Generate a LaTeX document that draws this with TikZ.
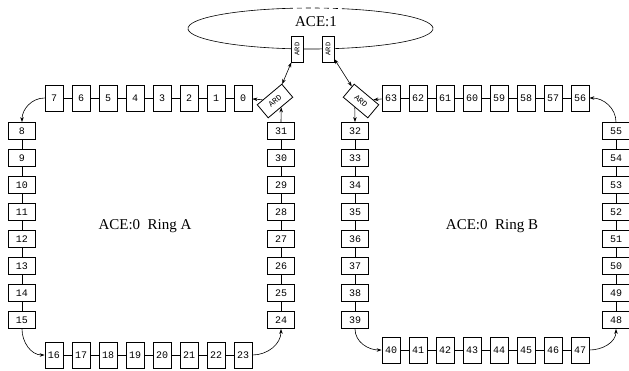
\documentclass[tikz,border=0pt]{standalone}
\usepackage{fontspec}
\setmainfont{Liberation Serif}
\newfontfamily\boxfont{Liberation Mono}
\usetikzlibrary{arrows.meta}
\usetikzlibrary{calc}
\tikzset{hbox/.style = {draw, line width=0.8pt, fill=white, inner sep=0,
                        minimum width=18, minimum height=26,
                        font=\boxfont\fontsize{10}{10}\selectfont}}
\tikzset{vbox/.style = {draw, line width=0.8pt, fill=white, inner sep=0,
                        minimum width=27, minimum height=17,
                        font=\boxfont\fontsize{10}{10}\selectfont}}
\tikzset{ard/.style = {draw, line width=0.8pt, fill=white, inner sep=0,
                       font=\boxfont\fontsize{7}{7}\selectfont}}
\tikzset{flow/.style = {-{Stealth[length=5pt, width=3.5pt]}}}
\tikzset{link/.style = {{Stealth[length=5pt, width=3.5pt]}-{Stealth[length=5pt, width=3.5pt]}}}
\tikzset{every picture/.style={
    every path/.style={line width=0.6pt},
}}

\begin{document}
\begin{tikzpicture}[x=1pt, y=-1pt]

      \useasboundingbox (0,0) rectangle (629,370);

      % ACE:1
      \def\cx{310.5}
      \def\cy{28.5}
      \draw (\cx,\cy) ++(285.4:122.5 and 20.5)
        arc[start angle=285.4, end angle=619.4, x radius=122.5, y radius=20.5];
      \draw[dash pattern=on 5pt off 4pt] (\cx,\cy) ++(259.4:122.5 and 20.5)
        arc[start angle=259.4, end angle=285.4, x radius=122.5, y radius=20.5];
      \node (ace1) at (316,22) {\fontsize{15}{18}\selectfont ACE:1};

      \node[ard, rotate=90, minimum width=26, minimum height=12] (ardT1) at (297,49) {ARD};
      \node[ard, rotate=90, minimum width=26, minimum height=12] (ardT2) at (328,49) {ARD};
      \node[ard, rotate=40, minimum width=32, minimum height=17,
            font=\boxfont\fontsize{8}{8}\selectfont] (ardA) at (275,101) {ARD};
      \node[ard, rotate=-40, minimum width=32, minimum height=17,
            font=\boxfont\fontsize{8}{8}\selectfont] (ardB) at (361,101) {ARD};

      % Ring A
      \node[hbox] (n0) at (243,98) {0};
      \node[hbox] (n1) at (216,98) {1};
      \node[hbox] (n2) at (189,98) {2};
      \node[hbox] (n3) at (162,98) {3};
      \node[hbox] (n4) at (135,98) {4};
      \node[hbox] (n5) at (108,98) {5};
      \node[hbox] (n6) at (81,98)  {6};
      \node[hbox] (n7) at (54,98)  {7};

      \node[vbox] (n8)  at (22,131) {8};
      \node[vbox] (n9)  at (22,158) {9};
      \node[vbox] (n10) at (22,185) {10};
      \node[vbox] (n11) at (22,212) {11};
      \node[vbox] (n12) at (22,239) {12};
      \node[vbox] (n13) at (22,266) {13};
      \node[vbox] (n14) at (22,293) {14};
      \node[vbox] (n15) at (22,320) {15};

      \node[hbox] (n16) at (54,355)  {16};
      \node[hbox] (n17) at (81,355)  {17};
      \node[hbox] (n18) at (108,355) {18};
      \node[hbox] (n19) at (135,355) {19};
      \node[hbox] (n20) at (162,355) {20};
      \node[hbox] (n21) at (189,355) {21};
      \node[hbox] (n22) at (216,355) {22};
      \node[hbox] (n23) at (243,355) {23};

      \node[vbox] (n24) at (281,320) {24};
      \node[vbox] (n25) at (281,293) {25};
      \node[vbox] (n26) at (281,266) {26};
      \node[vbox] (n27) at (281,239) {27};
      \node[vbox] (n28) at (281,212) {28};
      \node[vbox] (n29) at (281,185) {29};
      \node[vbox] (n30) at (281,158) {30};
      \node[vbox] (n31) at (281,131) {31};

      % Ring B
      \node[vbox] (n32) at (355,131) {32};
      \node[vbox] (n33) at (355,158) {33};
      \node[vbox] (n34) at (355,185) {34};
      \node[vbox] (n35) at (355,212) {35};
      \node[vbox] (n36) at (355,239) {36};
      \node[vbox] (n37) at (355,266) {37};
      \node[vbox] (n38) at (355,293) {38};
      \node[vbox] (n39) at (355,320) {39};

      \node[hbox] (n40) at (391,350) {40};
      \node[hbox] (n41) at (418,350) {41};
      \node[hbox] (n42) at (445,350) {42};
      \node[hbox] (n43) at (472,350) {43};
      \node[hbox] (n44) at (499,350) {44};
      \node[hbox] (n45) at (526,350) {45};
      \node[hbox] (n46) at (553,350) {46};
      \node[hbox] (n47) at (580,350) {47};

      \node[vbox] (n48) at (616,320) {48};
      \node[vbox] (n49) at (616,293) {49};
      \node[vbox] (n50) at (616,266) {50};
      \node[vbox] (n51) at (616,239) {51};
      \node[vbox] (n52) at (616,212) {52};
      \node[vbox] (n53) at (616,185) {53};
      \node[vbox] (n54) at (616,158) {54};
      \node[vbox] (n55) at (616,131) {55};

      \node[hbox] (n56) at (580,98) {56};
      \node[hbox] (n57) at (553,98) {57};
      \node[hbox] (n58) at (526,98) {58};
      \node[hbox] (n59) at (499,98) {59};
      \node[hbox] (n60) at (472,98) {60};
      \node[hbox] (n61) at (445,98) {61};
      \node[hbox] (n62) at (418,98) {62};
      \node[hbox] (n63) at (391,98) {63};

      \node (labA) at (145,226) {\fontsize{15}{18}\selectfont ACE:0\ \ Ring A};
      \node (labB) at (492,226) {\fontsize{15}{18}\selectfont ACE:0\ \ Ring B};

      % links
      \draw (n0) -- (n1) -- (n2) -- (n3) -- (n4) -- (n5) -- (n6) -- (n7);
      \draw (n8) -- (n9) -- (n10) -- (n11) -- (n12) -- (n13) -- (n14) -- (n15);
      \draw (n16) -- (n17) -- (n18) -- (n19) -- (n20) -- (n21) -- (n22) -- (n23);
      \draw (n24) -- (n25) -- (n26) -- (n27) -- (n28) -- (n29) -- (n30) -- (n31);
      \draw (n32) -- (n33) -- (n34) -- (n35) -- (n36) -- (n37) -- (n38) -- (n39);
      \draw (n40) -- (n41) -- (n42) -- (n43) -- (n44) -- (n45) -- (n46) -- (n47);
      \draw (n48) -- (n49) -- (n50) -- (n51) -- (n52) -- (n53) -- (n54) -- (n55);
      \draw (n56) -- (n57) -- (n58) -- (n59) -- (n60) -- (n61) -- (n62) -- (n63);

      \draw[flow] (n7.west) to[out=180, in=90] (n8.north);
      \draw[flow] (n15.south) to[out=-90, in=180] (n16.west);
      \draw[flow] (n23.east) to[out=0, in=-90] (n24.south);
      \draw[flow] (n31.north) -- ($(ardA.south west)!.52!(ardA.south east)$);
      \draw[flow] (ardA) -- (n0);

      \draw[flow] (n39.south) to[out=-90, in=180] (n40.west);
      \draw[flow] (n47.east) to[out=0, in=-90] (n48.south);
      \draw[flow] (n55.north) to[out=90, in=0] (n56.east);
      \draw[flow] (n63) -- (ardB);
      \draw[flow] ($(ardB.south west)!.48!(ardB.south east)$) -- (n32.north);

      \draw[link] (ardT1) -- (ardA);
      \draw[link] (ardT2) -- (ardB);

    \end{tikzpicture}
\end{document}
